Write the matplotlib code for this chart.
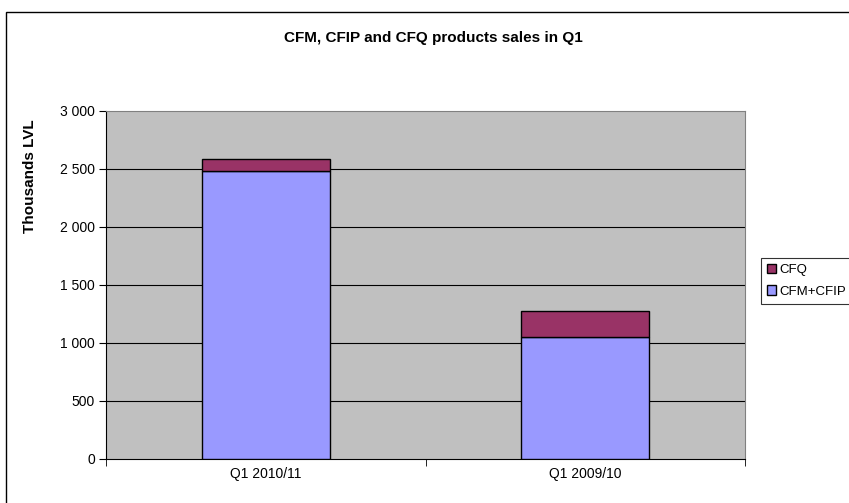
import matplotlib.pyplot as plt
from matplotlib.patches import Rectangle

plt.rcParams['font.family'] = ['Liberation Sans', 'DejaVu Sans']

categories = ['Q1 2010/11', 'Q1 2009/10']
cfm_cfip = [2480, 1050]
cfq = [110, 228]
y_ticks = [0, 500, 1000, 1500, 2000, 2500, 3000]
y_labels = ['0', '500', '1 000', '1 500', '2 000', '2 500', '3 000']

fig = plt.figure(figsize=(8.49, 5.03), dpi=100)
fig.patch.set_facecolor('white')

# outer chart border
fig.patches.append(Rectangle((6/849, -0.05), 1.0, (503-12)/503 + 0.05,
                             transform=fig.transFigure, fill=False,
                             edgecolor='black', linewidth=1.0))

ax = fig.add_axes([106/849, 44/503, 639/849, 348/503])
ax.set_facecolor('#c0c0c0')

x = range(len(categories))
b1 = ax.bar(x, cfm_cfip, width=0.4, color='#9999ff', edgecolor='black',
            linewidth=1.0, label='CFM+CFIP', zorder=3)
b2 = ax.bar(x, cfq, bottom=cfm_cfip, width=0.4, color='#993366',
            edgecolor='black', linewidth=1.0, label='CFQ', zorder=3)

ax.set_xlim(-0.5, 1.5)
ax.set_ylim(0, 3000)
ax.set_yticks(y_ticks)
ax.set_yticklabels(y_labels, fontsize=10)
ax.set_xticks(list(x))
ax.set_xticklabels(categories, fontsize=10)
ax.tick_params(axis='x', length=0, pad=6)
ax.set_xticks([-0.5, 0.5, 1.5], minor=True)
ax.tick_params(axis='x', which='minor', length=5, direction='out')
ax.tick_params(axis='y', length=5, direction='out', pad=3)

for v in y_ticks[1:-1]:
    ax.axhline(v, color='black', linewidth=0.8, zorder=1)

for s in ['top', 'right']:
    ax.spines[s].set_color('#808080')
for s in ['left', 'bottom']:
    ax.spines[s].set_color('black')

ax.set_ylabel('Thousands LVL', fontsize=11, fontweight='bold')
ax.yaxis.set_label_coords((37 - 106) / 639, (459 - 176) / 348)
fig.text(433/849, 1 - 38/503, 'CFM, CFIP and CFQ products sales in Q1',
         ha='center', va='center', fontsize=11, fontweight='bold')

leg = fig.legend(handles=[b2, b1], labels=['CFQ', 'CFM+CFIP'],
                 loc='upper left', bbox_to_anchor=(761/849, 1 - 258/503),
                 fontsize=9.5, frameon=True, fancybox=False, edgecolor='black',
                 handlelength=0.7, handleheight=0.7, handletextpad=0.25,
                 borderpad=0.45, labelspacing=0.7, borderaxespad=0)
leg.get_frame().set_linewidth(0.8)

fig.savefig('out.png', dpi=100)
